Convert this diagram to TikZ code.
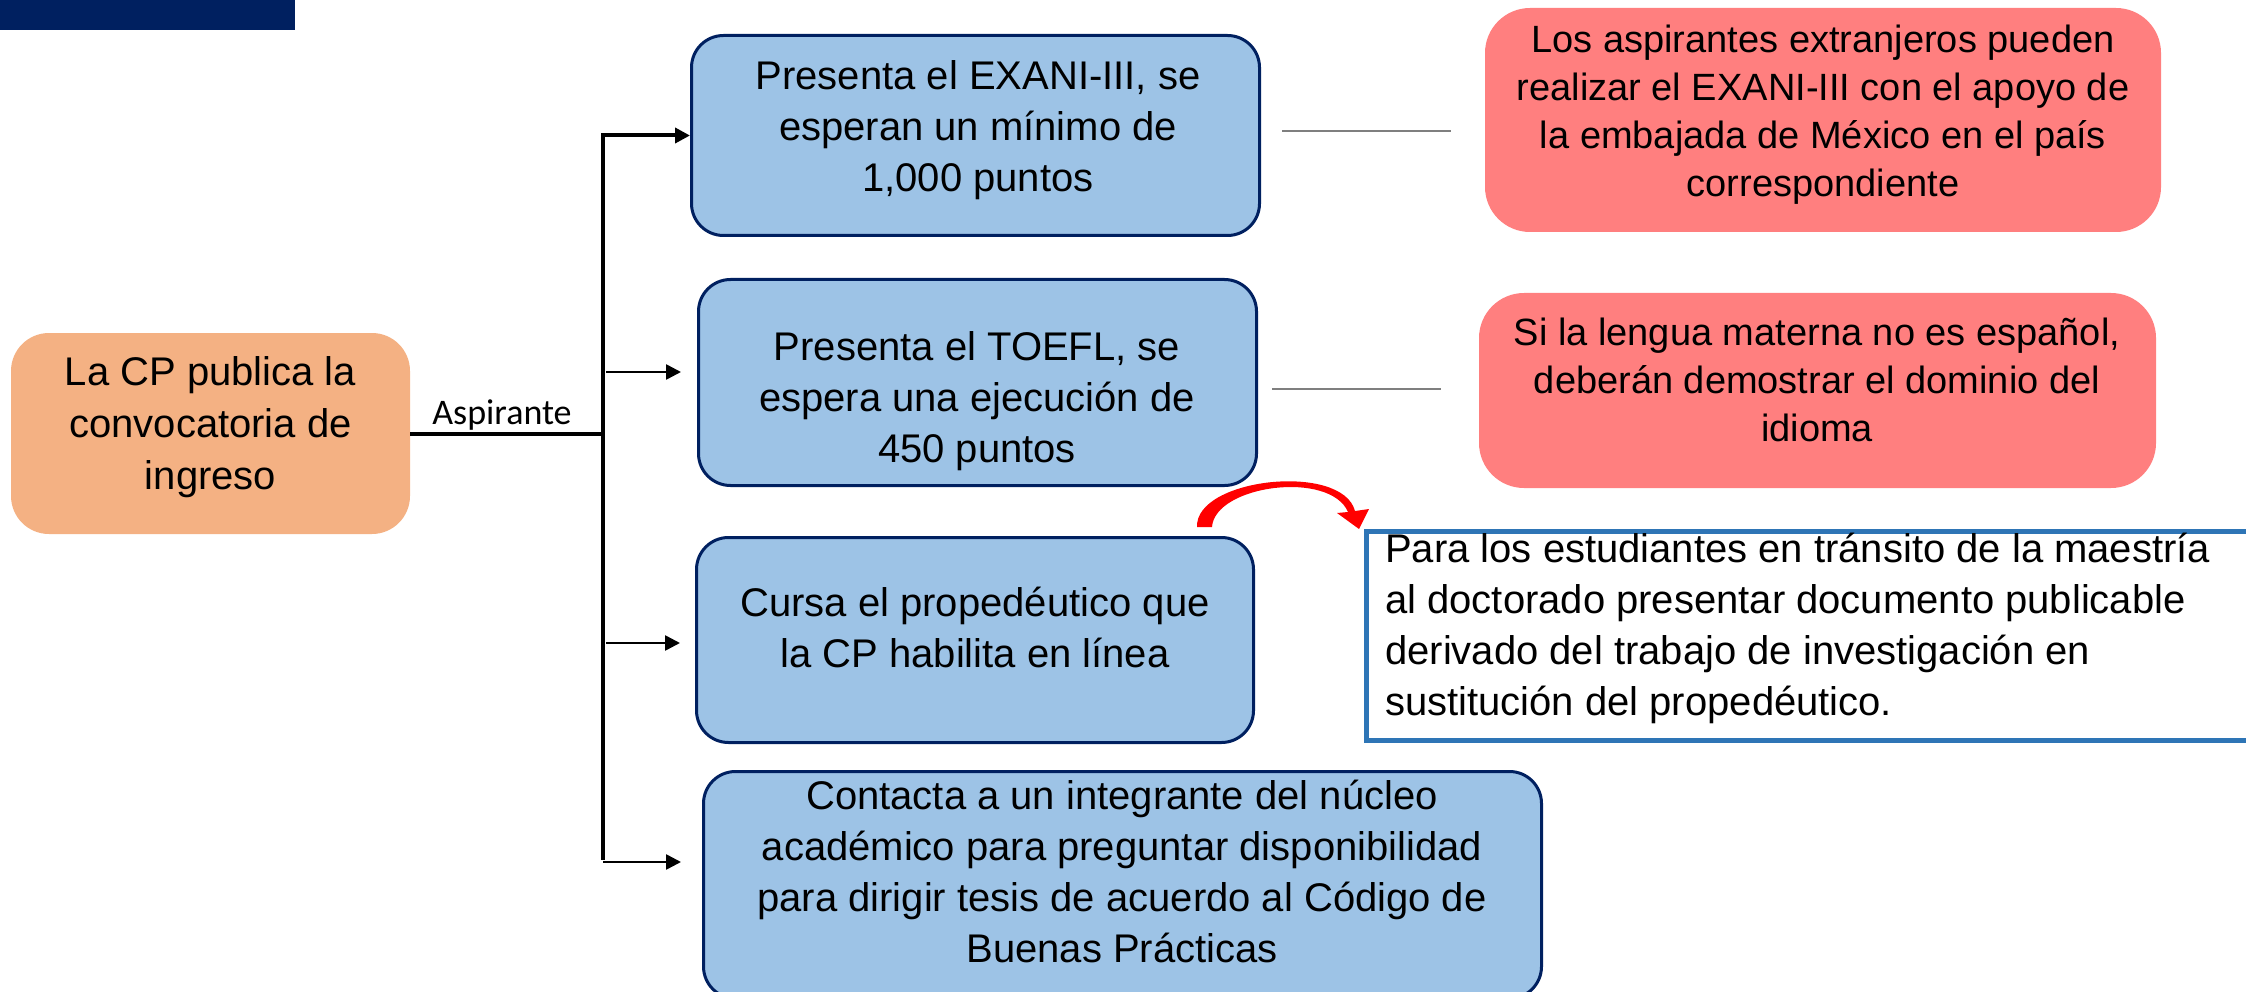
\documentclass[tikz,border=0pt]{standalone}
\usepackage{fontspec}
\setmainfont{Liberation Sans}
\newfontfamily\calibfont{Carlito}
\usetikzlibrary{arrows.meta}
\definecolor{navy}{HTML}{002060}
\definecolor{orangefill}{HTML}{F4B183}
\definecolor{bluefill}{HTML}{9DC3E6}
\definecolor{redfill}{HTML}{FF7F7F}
\definecolor{rectblue}{HTML}{2E75B6}
\definecolor{greyline}{HTML}{7F7F7F}
\begin{document}
\begin{tikzpicture}[x=1pt,y=-1pt,
  bluebox/.style={draw=navy, line width=3pt, fill=bluefill, rounded corners=32pt, inner sep=0pt},
  orangebox/.style={fill=orangefill, rounded corners=38pt, inner sep=0pt},
  redbox/.style={fill=redfill, rounded corners=45pt, inner sep=0pt},
  notebox/.style={draw=rectblue, line width=5pt, fill=white, inner sep=0pt},
  boxtxt/.style={align=center, font=\fontsize{40}{51}\selectfont, inner sep=0pt},
  redtxt/.style={align=center, font=\fontsize{38}{48}\selectfont, inner sep=0pt},
  thk/.style={line width=4pt, black},
  thn/.style={line width=2.6pt, black},
  arr/.style={-{Triangle[length=15pt,width=15pt]}},
  greyln/.style={draw=greyline, line width=1.8pt},
  redshape/.style={fill=red}
]
\useasboundingbox (0,0) rectangle (2246,992);
\clip (0,0) rectangle (2246,992);

% top bar
\node[fill=navy, minimum width=295pt, minimum height=30pt, anchor=north west, inner sep=0pt] (bar) at (0,0) {};

% boxes
\node[orangebox, minimum width=399pt, minimum height=201pt] (orange) at (210.5,433.5) {};
\node[bluebox, minimum width=568pt, minimum height=200pt] (b1) at (975.5,135.5) {};
\node[bluebox, minimum width=558pt, minimum height=206pt] (b2) at (977.5,382.5) {};
\node[bluebox, minimum width=557pt, minimum height=205pt] (b3) at (975,640) {};
\node[bluebox, minimum width=838pt, minimum height=227pt] (b4) at (1122.5,885) {};
\node[redbox, minimum width=676pt, minimum height=224pt] (r1) at (1823,120) {};
\node[redbox, minimum width=677pt, minimum height=195pt] (r2) at (1817.5,390.5) {};
\node[notebox, minimum width=903pt, minimum height=209pt] (note) at (1818,636) {};

% texts
\node[boxtxt, font=\fontsize{40}{52}\selectfont] (t0) at (210.5,427) {\strut La CP publica la\\\strut convocatoria de\\\strut ingreso};
\node[boxtxt] (t1) at (978,130) {\strut Presenta el EXANI-III, se\\\strut esperan un mínimo de\\\strut 1,000 puntos};
\node[boxtxt] (t2) at (977,401.5) {\strut Presenta el TOEFL, se\\\strut espera una ejecución de\\\strut 450 puntos};
\node[boxtxt] (t3) at (975,632) {\strut Cursa el propedéutico que\\\strut la CP habilita en línea};
\node[boxtxt] (t4) at (1122,876) {\strut Contacta a un integrante del núcleo\\\strut académico para preguntar disponibilidad\\\strut para dirigir tesis de acuerdo al Código de\\\strut Buenas Prácticas};
\node[redtxt] (tr1) at (1823,114.5) {\strut Los aspirantes extranjeros pueden\\\strut realizar el EXANI-III con el apoyo de\\\strut la embajada de México en el país\\\strut correspondiente};
\node[redtxt] (tr2) at (1817,384) {\strut Si la lengua materna no es español,\\\strut deberán demostrar el dominio del\\\strut idioma};
\node[boxtxt, align=left, anchor=west] (tn) at (1385,629) {\strut Para los estudiantes en tránsito de la maestría\\\strut al doctorado presentar documento publicable\\\strut derivado del trabajo de investigación en\\\strut sustitución del propedéutico.};

% label
\node[font=\calibfont\fontsize{36}{40}\selectfont, anchor=base, inner sep=0pt] (asp) at (502,424) {Aspirante};

% connector coordinates
\coordinate (tJ) at (603,433.5);
\coordinate (tTop) at (603,135.5);
\coordinate (tBot) at (603,862);
\coordinate (a2s) at (606,372);
\coordinate (a2e) at (681,372);
\coordinate (a3s) at (606,643);
\coordinate (a3e) at (680,643);
\coordinate (a4e) at (681,862);
\coordinate (g1s) at (1282,131);
\coordinate (g1e) at (1451,131);
\coordinate (g2s) at (1272,389);
\coordinate (g2e) at (1441,389);

% connectors
\draw[thk] (orange.east) -- (tJ);
\draw[thk, arr] ([yshift=2pt]tBot) -- (tTop) -- (b1.west);
\draw[thn, arr] (a2s) -- (a2e);
\draw[thn, arr] (a3s) -- (a3e);
\draw[thn, arr] (tBot) -- (a4e);
\draw[greyln] (g1s) -- (g1e);
\draw[greyln] (g2s) -- (g2e);

% curved block arrow (tapered)
\fill[redshape] (1197,527) .. controls (1195,478) and (1342,462) .. (1355,511)
  -- (1369,509) -- (1359,529) -- (1337,513) -- (1348,512)
  .. controls (1330,470) and (1215,485) .. (1212,527) -- cycle;
\end{tikzpicture}
\end{document}
